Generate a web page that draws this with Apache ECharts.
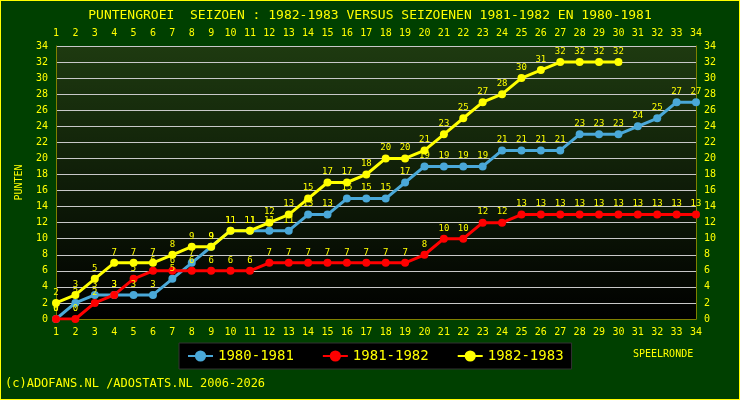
<!DOCTYPE html>
<html><head><meta charset="utf-8">
<script src="https://cdn.jsdelivr.net/npm/echarts@6/dist/echarts.min.js"></script>
<style>html,body{margin:0;background:#004000}#c{width:740px;height:400px;box-sizing:border-box;border:1px solid #ffff00}</style>
</head><body><div id="c"></div>
<script>
var rounds = [];
for (var i = 1; i <= 34; i++) rounds.push(String(i));
var s1980 = [0,2,3,3,3,3,5,7,9,11,11,11,11,13,13,15,15,15,17,19,19,19,19,21,21,21,21,23,23,23,24,25,27,27];
var s1981 = [0,0,2,3,5,6,6,6,6,6,6,7,7,7,7,7,7,7,7,8,10,10,12,12,13,13,13,13,13,13,13,13,13,13];
var s1982 = [2,3,5,7,7,7,8,9,9,11,11,12,13,15,17,17,18,20,20,21,23,25,27,28,30,31,32,32,32,32];

var chart = echarts.init(document.getElementById('c'));
var font = 'DejaVu Sans Mono';
function line(name, data, color) {
    return {
        name: name, type: 'line', data: data,
        symbol: 'circle', symbolSize: 8,
        lineStyle: {color: color, width: 3},
        itemStyle: {color: color},
        label: {show: true, position: 'top', color: color === '#ff0000' ? '#ffff00' : '#ffff00', fontSize: 9, fontFamily: font, distance: 2},
        z: name === '1982-1983' ? 5 : 3
    };
}
chart.setOption({
    backgroundColor: '#004000',
    animation: false,
    textStyle: {fontFamily: font},
    title: {text: 'PUNTENGROEI  SEIZOEN : 1982-1983 VERSUS SEIZOENEN 1981-1982 EN 1980-1981', left: 'center', top: 3,
        textStyle: {color: '#ffff00', fontSize: 13, fontWeight: 'normal', fontFamily: font}},
    grid: {left: 55, right: 43, top: 45, bottom: 80,
        show: true, borderWidth: 0,
        backgroundColor: new echarts.graphic.LinearGradient(0, 0, 0, 1, [{offset: 0, color: '#1e3a10'}, {offset: 1, color: '#000000'}])},
    legend: {data: ['1980-1981', '1981-1982', '1982-1983'], left: 178, top: 342, itemGap: 28,
        backgroundColor: '#000000', borderColor: '#333', borderWidth: 1, padding: [6, 8],
        textStyle: {color: '#ffff00', fontSize: 14, fontFamily: font}},
    graphic: [
        {type: 'text', left: 632, top: 348, style: {text: 'SPEELRONDE', fill: '#ffff00', font: '10px ' + font}},
        {type: 'text', left: 4, top: 377, style: {text: '(c)ADOFANS.NL /ADOSTATS.NL 2006-2026', fill: '#ffff00', font: '12px ' + font}}
    ],
    xAxis: [
        {type: 'category', data: rounds, boundaryGap: false, position: 'bottom',
         axisLine: {lineStyle: {color: '#808000'}}, axisTick: {show: false},
         axisLabel: {color: '#ffff00', fontSize: 10, interval: 0}},
        {type: 'category', data: rounds, boundaryGap: false, position: 'top',
         axisLine: {show: false}, axisTick: {show: false},
         axisLabel: {color: '#ffff00', fontSize: 10, interval: 0}}
    ],
    yAxis: [
        {type: 'value', min: 0, max: 34, interval: 2, name: 'PUNTEN', nameLocation: 'middle', nameGap: 32,
         nameTextStyle: {color: '#ffff00', fontSize: 10},
         axisLine: {show: true, lineStyle: {color: '#808000'}},
         axisLabel: {color: '#ffff00', fontSize: 10},
         splitLine: {lineStyle: {color: '#c8c8c8', width: 1}}},
        {type: 'value', min: 0, max: 34, interval: 2, position: 'right',
         axisLine: {show: true, lineStyle: {color: '#808000'}},
         axisLabel: {color: '#ffff00', fontSize: 10}, splitLine: {show: false}}
    ],
    series: [
        line('1980-1981', s1980, '#4aa8d8'),
        line('1981-1982', s1981, '#ff0000'),
        line('1982-1983', s1982, '#ffff00')
    ]
});
</script></body></html>
